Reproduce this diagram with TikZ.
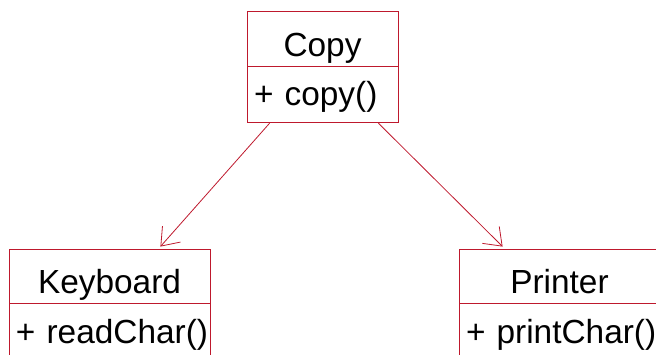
\documentclass[tikz,border=0pt]{standalone}
\usepackage{fontspec}
\setmainfont{Liberation Sans}
\usetikzlibrary{positioning,arrows.meta}
\definecolor{umlred}{RGB}{190,25,45}

\begin{document}
\begin{tikzpicture}[x=1pt,y=-1pt,
	classname/.style={draw=umlred, line width=0.8pt, inner sep=0pt,
		text height=38pt, text depth=2pt,
		font=\fontsize{33.4}{38}\selectfont},
	classops/.style={draw=umlred, line width=0.8pt, inner ysep=0pt, inner xsep=7pt,
		text height=26pt, text depth=4pt,
		align=left, font=\fontsize{33.4}{38}\selectfont},
	assoc/.style={draw=umlred, line width=0.8pt, -{Straight Barb[length=16pt,width=24pt]}}]
	\useasboundingbox (0,0) rectangle (656,355);
	\clip (0,0) rectangle (656,355);
	% Copy
	\node[classname, minimum width=151pt, minimum height=55pt] (copy) at (322.5,38.5) {Copy};
	\node[classops, text width=137pt, minimum height=56pt, below=0pt of copy] (copyops) {\mbox{+ copy()}};
	% Keyboard
	\node[classname, minimum width=201pt, minimum height=54pt] (kbd) at (109.5,276) {Keyboard};
	\node[classops, text width=187pt, minimum height=57pt, below=0pt of kbd] (kbdops) {\mbox{+ readChar()}};
	% Printer
	\node[classname, minimum width=201pt, minimum height=54pt] (prn) at (559.5,276) {Printer};
	\node[classops, text width=187pt, minimum height=57pt, below=0pt of prn] (prnops) {\mbox{+ printChar()}};
	% associations
	\draw[assoc] ([xshift=23pt]copyops.south west) -- ([xshift=-50pt,yshift=2pt]kbd.north east);
	\draw[assoc] ([xshift=-20pt]copyops.south east) -- ([xshift=44pt,yshift=2pt]prn.north west);
\end{tikzpicture}
\end{document}
